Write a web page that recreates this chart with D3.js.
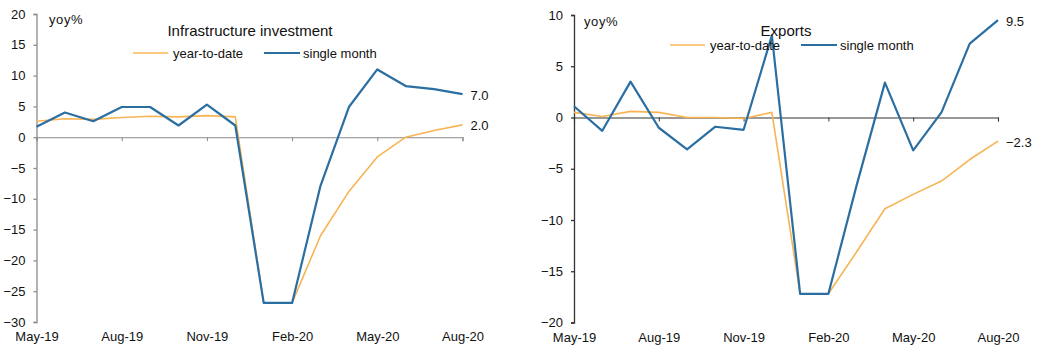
<!DOCTYPE html>
<html>
<head>
<meta charset="utf-8">
<script src="https://cdn.jsdelivr.net/npm/d3@7"></script>
<style>
  html, body { margin: 0; padding: 0; background: #fff; }
  svg { display: block; font-family: "Liberation Sans", Arial, sans-serif; }
</style>
</head>
<body>
<svg id="chart" width="1048" height="352"></svg>
<script>
// ---- data ----
const months = ["May-19","Jun-19","Jul-19","Aug-19","Sep-19","Oct-19","Nov-19","Dec-19",
                "Jan-20","Feb-20","Mar-20","Apr-20","May-20","Jun-20","Jul-20","Aug-20"];
const tickMonths = ["May-19","Aug-19","Nov-19","Feb-20","May-20","Aug-20"];

const infraYTD    = [2.6, 3.0, 2.9, 3.2, 3.4, 3.3, 3.5, 3.3, -26.9, -26.9, -16.0, -8.8, -3.2, 0.0, 1.1, 2.0];
const infraSingle = [1.7, 4.0, 2.6, 4.9, 4.9, 1.9, 5.3, 1.9, -26.9, -26.9, -7.9, 4.9, 11.0, 8.3, 7.8, 7.0];

const exportsYTD    = [0.5, 0.1, 0.6, 0.5, 0.0, 0.0, -0.1, 0.5, -17.2, -17.2, -13.1, -8.9, -7.5, -6.2, -4.1, -2.3];
const exportsSingle = [1.1, -1.3, 3.5, -1.0, -3.1, -0.9, -1.2, 8.0, -17.2, -17.2, -6.6, 3.4, -3.2, 0.5, 7.2, 9.5];

const infraTicks   = [20, 15, 10, 5, 0, -5, -10, -15, -20, -25, -30];
const exportsTicks = [10, 5, 0, -5, -10, -15, -20];

const seriesNames = ["year-to-date", "single month"];
const colors = { ytd: "#f8b454", single: "#2a6ea2" };

const svg = d3.select("#chart");

function panel(cfg) {
  const g = svg.append("g");
  const x = d3.scalePoint().domain(months).range([cfg.x0, cfg.x1]);
  const y = d3.scaleLinear().domain(cfg.yDomain).range([cfg.yBottom, cfg.yTop]);

  // y axis
  const yAxis = d3.axisLeft(y).tickValues(cfg.yTicks).tickSize(3).tickPadding(8)
    .tickFormat(d3.format("d"));
  const ya = g.append("g").attr("transform", `translate(${cfg.x0},0)`).call(yAxis);
  ya.select(".domain").attr("stroke", cfg.axisColor).attr("stroke-width", 1.3);
  ya.selectAll(".tick line").attr("stroke", cfg.axisColor).attr("stroke-width", 1.3);
  ya.selectAll(".tick text").attr("font-size", 13).attr("fill", "#111")
    .attr("font-family", "Liberation Sans, Arial, sans-serif");

  // zero line with ticks
  const xAxis = d3.axisBottom(x).tickValues(tickMonths).tickSize(4).tickFormat("");
  const xa = g.append("g").attr("transform", `translate(0,${y(0)})`).call(xAxis);
  xa.select(".domain").attr("stroke", cfg.zeroColor).attr("stroke-width", 1.1);
  xa.selectAll(".tick line").attr("stroke", cfg.zeroColor).attr("stroke-width", 1);

  // x labels at the bottom
  const xl = d3.axisBottom(x).tickValues(tickMonths).tickSize(0).tickPadding(10);
  const xla = g.append("g").attr("transform", `translate(0,${cfg.yBottom})`).call(xl);
  xla.select(".domain").remove();
  xla.selectAll(".tick text").attr("font-size", 13).attr("fill", "#111")
    .attr("font-family", "Liberation Sans, Arial, sans-serif");

  const line = d3.line().x((d, i) => x(months[i])).y(d => y(d));

  g.append("path").datum(cfg.ytd).attr("d", line)
    .attr("fill", "none").attr("stroke", colors.ytd).attr("stroke-width", 1.6)
    .attr("stroke-linejoin", "round");
  g.append("path").datum(cfg.single).attr("d", line)
    .attr("fill", "none").attr("stroke", colors.single).attr("stroke-width", 2.2)
    .attr("stroke-linejoin", "round");

  // end labels
  const last = months.length - 1;
  g.append("text").attr("x", x(months[last]) + 8).attr("y", y(cfg.single[last]) + 1)
    .attr("dy", "0.35em").attr("font-size", 13).attr("fill", "#111")
    .text(d3.format(".1f")(cfg.single[last]));
  g.append("text").attr("x", x(months[last]) + 8).attr("y", y(cfg.ytd[last]) + 1)
    .attr("dy", "0.35em").attr("font-size", 13).attr("fill", "#111")
    .text(d3.format(".1f")(cfg.ytd[last]));

  // unit label
  g.append("text").attr("x", cfg.unitX).attr("y", cfg.unitY)
    .attr("font-size", 13).attr("fill", "#111").attr("letter-spacing", "0.6px")
    .text("yoy%");

  // title
  g.append("text").attr("x", cfg.titleX).attr("y", 36).attr("text-anchor", "middle")
    .attr("font-size", 15).attr("fill", "#111").text(cfg.title);

  // legend
  const lg = g.append("g");
  lg.append("line").attr("x1", cfg.legX).attr("x2", cfg.legX + 35)
    .attr("y1", cfg.legY).attr("y2", cfg.legY)
    .attr("stroke", colors.ytd).attr("stroke-width", 1.6);
  lg.append("text").attr("x", cfg.legX + 40).attr("y", cfg.legY).attr("dy", "0.35em")
    .attr("font-size", 13).attr("fill", "#111").text(seriesNames[0]);
  lg.append("line").attr("x1", cfg.legX + 131).attr("x2", cfg.legX + 167)
    .attr("y1", cfg.legY).attr("y2", cfg.legY)
    .attr("stroke", colors.single).attr("stroke-width", 2.2);
  lg.append("text").attr("x", cfg.legX + 170).attr("y", cfg.legY).attr("dy", "0.35em")
    .attr("font-size", 13).attr("fill", "#111").text(seriesNames[1]);
}

panel({
  x0: 36.5, x1: 462.5, yTop: 14, yBottom: 322, yDomain: [-30, 20], yTicks: infraTicks,
  ytd: infraYTD, single: infraSingle, axisColor: "#8a8a8a", zeroColor: "#8a8a8a",
  title: "Infrastructure investment", titleX: 250, legX: 133, legY: 53,
  unitX: 49, unitY: 24
});

panel({
  x0: 574, x1: 998, yTop: 15, yBottom: 322.5, yDomain: [-20, 10], yTicks: exportsTicks,
  ytd: exportsYTD, single: exportsSingle, axisColor: "#333", zeroColor: "#333",
  title: "Exports", titleX: 786, legX: 670, legY: 45,
  unitX: 584, unitY: 26
});
</script>
</body>
</html>
